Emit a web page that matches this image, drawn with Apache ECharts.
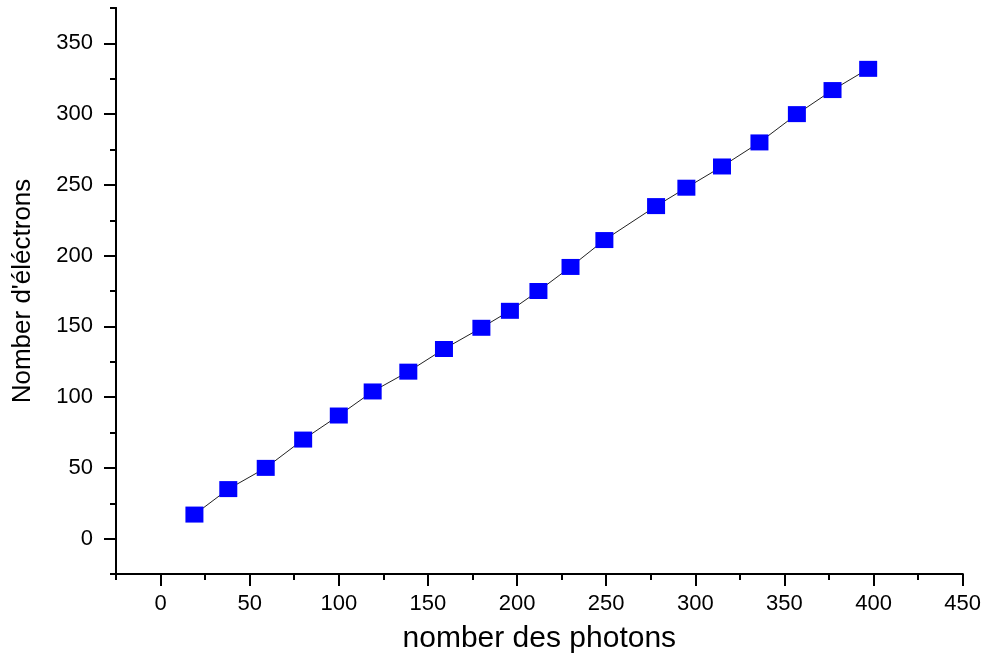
<!DOCTYPE html>
<html>
<head>
<meta charset="utf-8">
<script src="https://cdn.jsdelivr.net/npm/echarts@6/dist/echarts.min.js"></script>
<style>
html,body{margin:0;padding:0;background:#fff;}
#chart{width:984px;height:661px;}
</style>
</head>
<body>
<div id="chart"></div>
<script>
// Data
var photons = [19, 38, 59, 80, 100, 119, 139, 159, 180, 196, 212, 230, 249, 278, 295, 315, 336, 357, 377, 397];
var electrons = [17, 35, 50, 70, 87, 104, 118, 134, 149, 161, 175, 192, 211, 235, 248, 263, 280, 300, 317, 332];

var xMajorTicks = [0, 50, 100, 150, 200, 250, 300, 350, 400, 450];
var xMinorTicks = [-25, 25, 75, 125, 175, 225, 275, 325, 375, 425];
var yMajorTicks = [0, 50, 100, 150, 200, 250, 300, 350];
var yMinorTicks = [-25, 25, 75, 125, 175, 225, 275, 325, 375];

var xTitle = 'nomber des photons';
var yTitle = "Nomber d'éléctrons";

var points = photons.map(function (x, i) { return [x, electrons[i]]; });

var FONT = 'Liberation Sans, Arial, sans-serif';
var lineStyle = { color: '#000', width: 2 };

var chart = echarts.init(document.getElementById('chart'), null, { renderer: 'canvas' });
chart.setOption({
  animation: false,
  backgroundColor: '#ffffff',
  grid: { left: 116, right: 21, top: 8, bottom: 87, containLabel: false },
  xAxis: [
    {
      type: 'value', position: 'bottom', min: -25, max: 450,
      name: xTitle, nameLocation: 'middle', nameGap: 50,
      nameTextStyle: { fontFamily: FONT, fontSize: 30, color: '#000' },
      axisLine: { show: true, onZero: false, lineStyle: lineStyle },
      axisTick: { show: true, inside: false, length: 12, customValues: xMajorTicks, lineStyle: lineStyle },
      axisLabel: { show: true, customValues: xMajorTicks, margin: 19, fontFamily: FONT, fontSize: 22, color: '#000' },
      splitLine: { show: false }
    },
    {
      type: 'value', position: 'bottom', min: -25, max: 450,
      axisLine: { show: true, onZero: false, lineStyle: lineStyle },
      axisTick: { show: true, inside: false, length: 6, customValues: xMinorTicks, lineStyle: lineStyle },
      axisLabel: { show: false },
      splitLine: { show: false }
    }
  ],
  yAxis: [
    {
      type: 'value', position: 'left', min: -25, max: 375,
      name: yTitle, nameLocation: 'middle', nameGap: 80, nameRotate: 90,
      nameTextStyle: { fontFamily: FONT, fontSize: 26, color: '#000' },
      axisLine: { show: true, onZero: false, lineStyle: lineStyle },
      axisTick: { show: true, inside: false, length: 12, customValues: yMajorTicks, lineStyle: lineStyle },
      axisLabel: { show: true, customValues: yMajorTicks, margin: 23, fontFamily: FONT, fontSize: 22, color: '#000' },
      splitLine: { show: false }
    },
    {
      type: 'value', position: 'left', min: -25, max: 375,
      axisLine: { show: true, onZero: false, lineStyle: lineStyle },
      axisTick: { show: true, inside: false, length: 6, customValues: yMinorTicks, lineStyle: lineStyle },
      axisLabel: { show: false },
      splitLine: { show: false }
    }
  ],
  series: [
    {
      type: 'line',
      xAxisIndex: 0, yAxisIndex: 0,
      data: points,
      symbol: 'rect',
      symbolSize: [18, 16],
      itemStyle: { color: '#0000ff' },
      lineStyle: { color: '#222', width: 1 },
      z: 3
    }
  ]
});
</script>
</body>
</html>
